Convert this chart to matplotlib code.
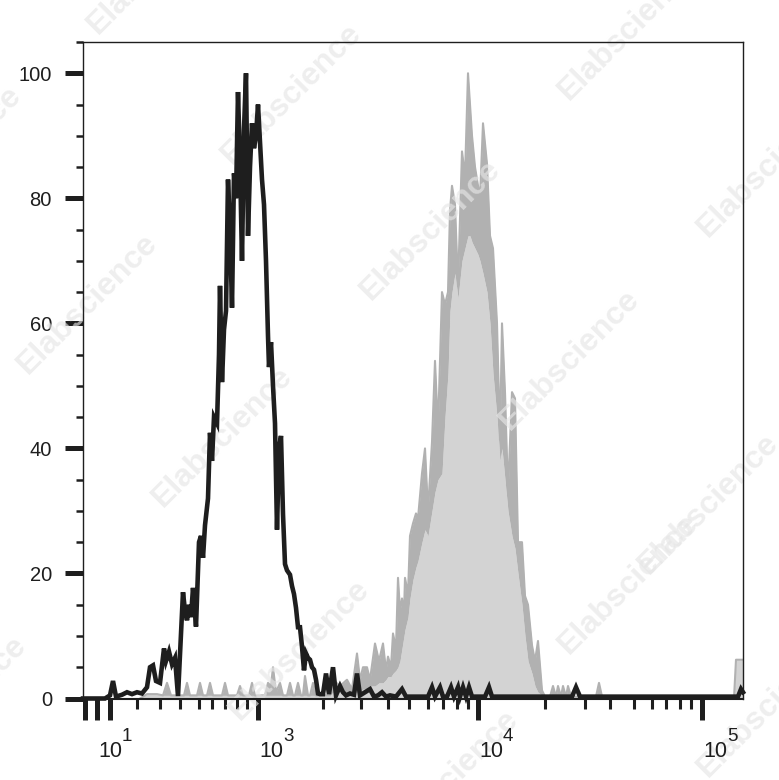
import matplotlib
matplotlib.use('Agg')
import matplotlib.pyplot as plt

plt.rcParams['font.family'] = ['Liberation Sans', 'DejaVu Sans']

# ---------------- data (x in display channel units of the biexponential axis) -------------
black_channel = [83, 88, 95, 105, 110, 113, 116, 122, 127, 132, 137, 142, 147, 150, 153, 156,
                 160, 164, 166, 169, 172, 175, 178, 183, 185, 187, 189, 191, 193, 196, 199, 201,
                 203, 205, 208, 210, 212, 214, 217, 219, 220, 222, 224, 226, 228, 230, 232, 234,
                 236, 238, 240, 242, 244, 246, 248, 250, 252, 254, 256, 258, 260, 262, 264, 266,
                 268, 269, 271, 273, 275, 277, 279, 281, 283, 285, 287, 290, 292, 294, 296, 298,
                 300, 302, 304, 306, 308, 310, 312, 314, 316, 318, 320, 323, 326, 329, 333, 336,
                 340, 343, 346, 350, 354, 357, 360, 365, 370, 374, 378, 382, 386, 390, 396, 402,
                 406, 428, 432, 435, 440, 443, 447, 451, 454, 458, 460, 463, 466, 469, 472, 485,
                 489, 492, 572, 576, 580, 738, 741, 743]
black_count = [0, 0, 0, 0, 0.5, 2.8, 0.3, 0.6, 1.0, 0.7, 1.0, 0.8, 1.8, 5.0, 5.3, 2.8,
               2.5, 8.0, 6.0, 7.5, 5.5, 6.5, 0.4, 17.0, 14.0, 12.5, 15.0, 13.0, 17.7, 11.5, 25.0, 26.0,
               22.5, 27.7, 32.0, 42.5, 38.0, 45.0, 44.0, 55.0, 66.0, 50.6, 59.0, 62.0, 83.0, 75.0, 62.5, 84.0,
               80.0, 97.0, 86.0, 70.0, 91.0, 100.0, 74.0, 85.0, 92.0, 88.0, 90.0, 95.0, 89.0, 83.0, 79.0, 70.0,
               58.0, 53.0, 57.0, 50.0, 44.0, 27.0, 40.0, 42.0, 29.5, 21.5, 20.5, 19.8, 18.0, 16.7, 14.5, 11.4,
               11.4, 8.3, 4.5, 7.2, 6.5, 6.2, 5.0, 4.6, 3.0, 0.8, 0.7, 0.7, 4.0, 0.7, 5.0, 0.5,
               2.0, 1.0, 0.5, 0.8, 0.6, 4.0, 0.5, 1.0, 1.5, 0.3, 0.5, 1.0, 0.3, 0.5, 0.3, 1.5,
               0.3, 0.3, 1.8, 0.3, 1.8, 0.3, 0.3, 1.8, 0.3, 1.8, 0.3, 1.8, 0.3, 1.8, 0.3, 0.3,
               1.8, 0.3, 0.3, 1.8, 0.3, 0.3, 1.5, 1.0]

gray_channel = [140, 147, 157, 163, 167, 171, 184, 187, 190, 197, 200, 203, 207, 210, 213, 222,
                225, 228, 237, 240, 243, 249, 252, 255, 265, 268, 271, 273, 276, 280, 283, 287,
                290, 293, 295, 298, 301, 303, 305, 308, 310, 313, 316, 330, 333, 340, 347, 352,
                357, 360, 363, 367, 370, 375, 379, 383, 386, 388, 391, 393, 396, 398, 400, 402,
                404, 405, 408, 410, 413, 416, 418, 422, 425, 428, 432, 435, 438, 442, 445, 448,
                450, 452, 455, 458, 462, 465, 468, 470, 472, 475, 478, 480, 483, 487, 490, 493,
                497, 500, 502, 505, 508, 512, 515, 518, 522, 525, 528, 532, 535, 538, 542, 545,
                550, 553, 556, 558, 561, 563, 566, 568, 571, 596, 599, 602, 606, 734, 736, 743]
gray_peak = [0, 0.7, 0.7, 0.5, 2.5, 0.5, 0.5, 2.5, 0.5, 0.5, 2.5, 0.5, 0.5, 2.5, 0.5, 0.5,
             2.5, 0.5, 0.5, 2.0, 0.5, 0.5, 2.5, 0.5, 0.5, 2.5, 2.0, 5.0, 1.0, 2.5, 0.5, 0.5,
             2.5, 0.5, 0.5, 2.5, 0.5, 0.5, 3.6, 0.5, 0.5, 2.5, 0.5, 0.5, 3.0, 2.0, 3.0, 1.5,
             7.2, 3.0, 5.0, 5.0, 3.0, 8.8, 6.0, 8.8, 4.5, 6.7, 5.0, 10.4, 8.0, 19.3, 14.0, 16.0,
             13.5, 19.3, 16.7, 26.0, 28.0, 29.6, 28.8, 36.0, 40.0, 30.0, 41.0, 54.0, 43.0, 65.0, 63.0, 65.0,
             78.0, 82.0, 79.0, 66.0, 87.5, 83.5, 100.0, 95.0, 90.0, 85.0, 82.0, 80.0, 92.0, 85.5, 74.0, 72.0,
             60.0, 41.4, 60.0, 49.0, 33.0, 49.0, 48.0, 25.0, 25.0, 16.4, 15.0, 8.5, 6.0, 9.2, 1.3, 0.3,
             0.3, 2.0, 0.3, 2.0, 0.3, 2.0, 0.3, 2.0, 0.3, 0.3, 2.5, 0.3, 0, 0, 6.2, 6.2]
gray_fill = [0, 0.7, 0.7, 0.5, 0.5, 0.5, 0.5, 0.5, 0.5, 0.5, 0.5, 0.5, 0.5, 0.5, 0.5, 0.5,
             0.5, 0.5, 0.5, 0.5, 0.5, 0.5, 0.5, 0.5, 0.5, 0.5, 0.5, 0.5, 0.5, 0.5, 0.5, 0.5,
             0.5, 0.5, 0.5, 0.5, 0.5, 0.5, 0.5, 0.5, 0.5, 0.5, 0.5, 0.5, 1.0, 1.0, 1.0, 1.0,
             1.0, 1.0, 1.5, 1.5, 2.0, 2.0, 2.5, 2.5, 3.0, 3.5, 3.5, 4.0, 4.5, 5.0, 6.0, 8.0,
             10.0, 11.0, 13.0, 16.0, 19.0, 21.0, 22.0, 25.0, 27.0, 26.0, 30.0, 33.0, 35.0, 36.0, 45.0, 52.0,
             62.0, 65.0, 68.0, 64.0, 70.0, 72.0, 74.0, 74.0, 73.0, 72.0, 71.0, 70.0, 68.0, 65.0, 60.0, 52.0,
             45.0, 38.0, 40.0, 35.0, 30.0, 26.0, 24.0, 20.0, 15.0, 10.0, 6.0, 4.0, 2.0, 1.0, 0.5, 0.3,
             0.3, 0.3, 0.3, 0.3, 0.3, 0.3, 0.3, 0.3, 0.3, 0.3, 0.3, 0.3, 0, 0, 6.2, 6.2]

y_major = [0, 20, 40, 60, 80, 100]
y_major_labels = ['0', '20', '40', '60', '80', '100']
y_minor = [5, 10, 15, 25, 30, 35, 45, 50, 55, 65, 70, 75, 85, 90, 95, 105]

x_major = [85, 97, 110, 258, 478, 702]
x_minor = [137, 160, 180, 199, 212, 225, 237, 247,
           323, 361, 388, 409, 428, 443, 457, 468,
           545, 585, 610, 634, 652, 666, 680, 691]
x_label_pos = [97, 258, 478, 702]
x_label_exp = ['1', '3', '4', '5']

watermark_centers = [(292, 94), (629, 30), (768, 167), (158, -36), (-48, 156), (88, 304),
                     (431, 230), (570, 360), (223, 437), (709, 504), (300, 650), (629, 584),
                     (-43, 706), (449, 780), (768, 707)]

# ---------------- figure ----------------
W, H = 779, 780
fig = plt.figure(figsize=(W / 100, H / 100), dpi=100)
fig.patch.set_facecolor('white')
ax = fig.add_axes([83 / W, 1 - 698.5 / H, 660 / W, 656.5 / H])
ax.set_xlim(83, 743)
ax.set_ylim(0, 105)

ax.fill_between(gray_channel, 0, gray_fill, color='#d3d3d3', lw=0, zorder=1)
ax.fill_between(gray_channel, gray_fill, gray_peak, color='#b1b1b1', lw=0, zorder=1.1)
ax.plot(gray_channel, gray_peak, color='#b1b1b1', lw=1.5, zorder=1.2)

for (cx, cy) in watermark_centers:
    ax.text(cx / W, 1 - cy / H, 'Elabscience', transform=fig.transFigure, rotation=45,
            rotation_mode='anchor', ha='center', va='center', fontsize=23, fontweight='bold',
            color='#e6e6e6', alpha=0.65, zorder=2, clip_on=False)

ax.plot(black_channel, black_count, color='#1e1e1e', lw=3.3, zorder=3, clip_on=False,
        solid_joinstyle='miter')

for s in ['top', 'right', 'left']:
    ax.spines[s].set_linewidth(1.0)
    ax.spines[s].set_color('#1e1e1e')
ax.spines['bottom'].set_linewidth(1.5)
ax.spines['bottom'].set_color('#1e1e1e')

ax.set_yticks(y_major)
ax.set_yticklabels(y_major_labels)
ax.set_yticks(y_minor, minor=True)
ax.tick_params(axis='y', which='major', length=13, width=3.6, pad=9.4, labelsize=14.5,
               color='#1e1e1e', labelcolor='#1e1e1e', direction='out')
ax.tick_params(axis='y', which='minor', length=5, width=1.8, color='#1e1e1e', direction='out')

ax.set_xticks(x_major)
ax.set_xticklabels([''] * len(x_major))
ax.set_xticks(x_minor, minor=True)
ax.tick_params(axis='x', which='major', length=15, width=3.6, color='#1e1e1e', direction='out')
ax.tick_params(axis='x', which='minor', length=7.2, width=2.2, color='#1e1e1e', direction='out')

tr = ax.get_xaxis_transform()
for pos, e in zip(x_label_pos, x_label_exp):
    ax.text(pos + 1, -(757 - 698.5) / 656.5, '10', transform=tr, ha='left', va='baseline',
            fontsize=15.5, color='#1e1e1e', clip_on=False)
    ax.text(pos + 25, -(741 - 698.5) / 656.5, e, transform=tr, ha='left', va='baseline',
            fontsize=13.5, color='#1e1e1e', clip_on=False)

fig.savefig('out.png', dpi=100)
